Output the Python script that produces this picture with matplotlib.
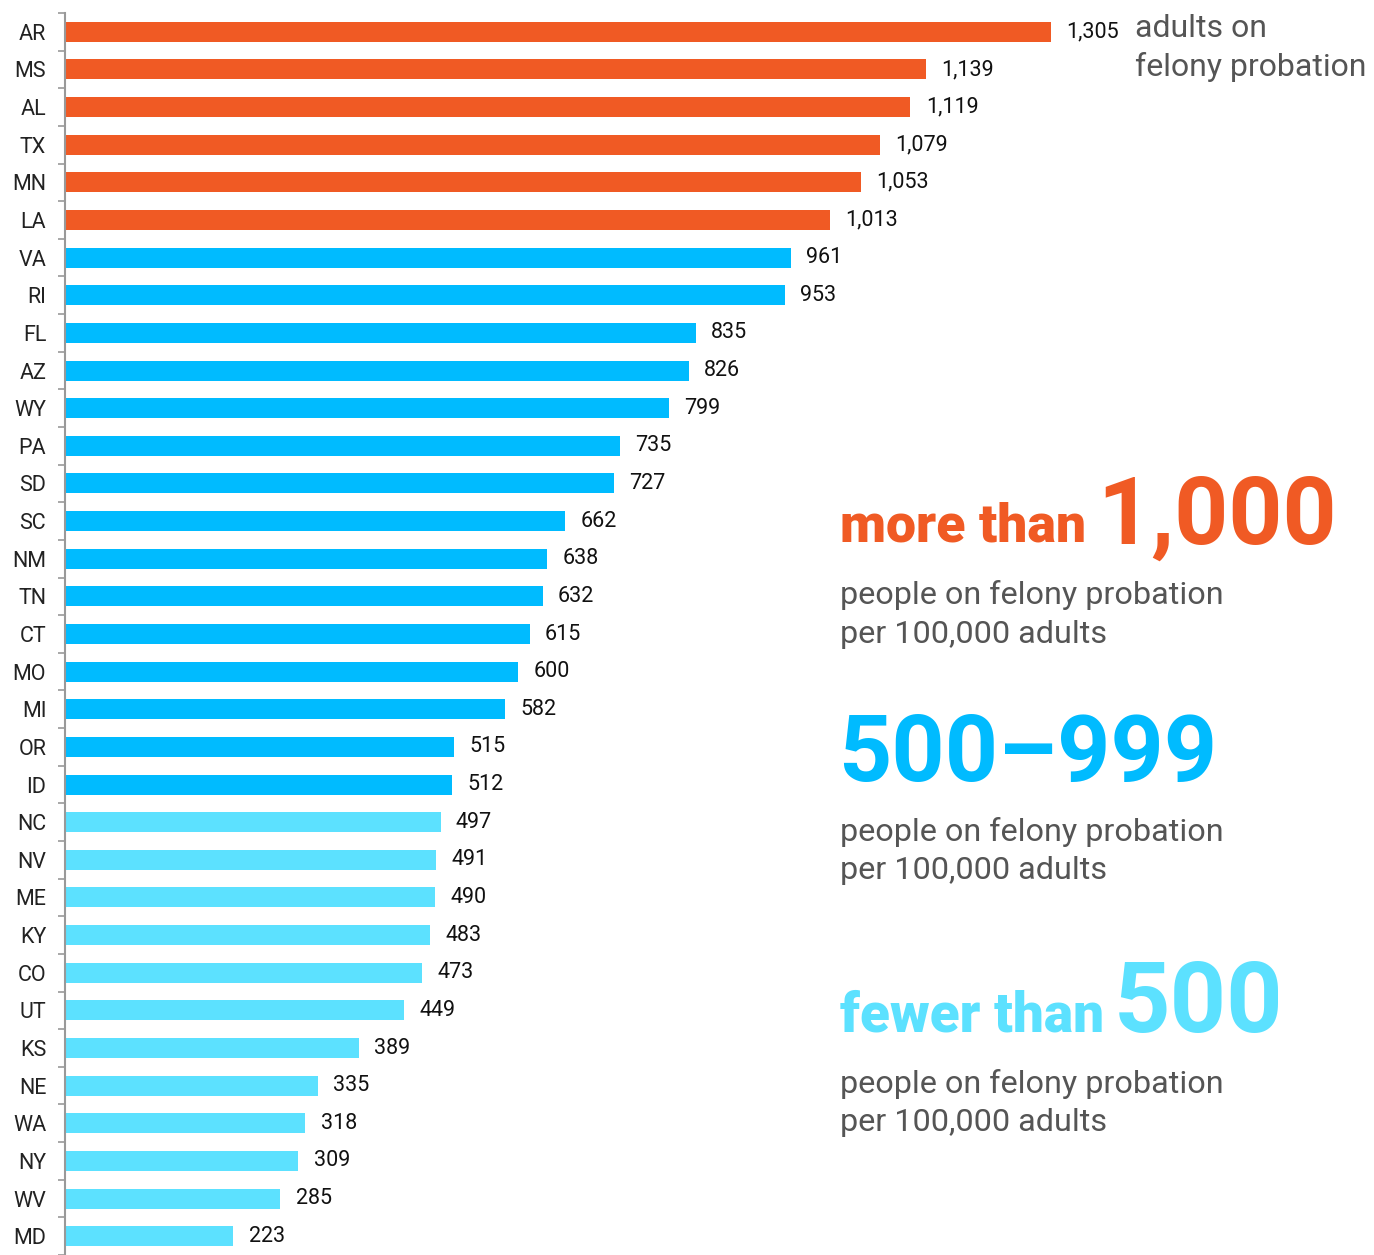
import numpy as np
import matplotlib.pyplot as plt

# Felony probation rate per 100,000 adults, by state

states = ['AR', 'MS', 'AL', 'TX', 'MN', 'LA', 'VA', 'RI', 'FL', 'AZ', 'WY',
          'PA', 'SD', 'SC', 'NM', 'TN', 'CT', 'MO', 'MI', 'OR', 'ID', 'NC',
          'NV', 'ME', 'KY', 'CO', 'UT', 'KS', 'NE', 'WA', 'NY', 'WV', 'MD']
rates = [1305, 1139, 1119, 1079, 1053, 1013, 961, 953, 835, 826, 799,
         735, 727, 662, 638, 632, 615, 600, 582, 515, 512, 497,
         491, 490, 483, 473, 449, 389, 335, 318, 309, 285, 223]

orange = '#F05A24'
blue = '#00BBFF'
cyan = '#5CE1FF'
grey_text = '#555555'

def bar_color(v):
    if v >= 1000:
        return orange
    if v >= 500:
        return blue
    return cyan

colors = [bar_color(v) for v in rates]

W, H = 1374, 1255
fig = plt.figure(figsize=(W / 100, H / 100), dpi=100)
plt.rcParams['font.family'] = ['Roboto', 'DejaVu Sans']

# axes placed in pixel units
left, top = 65, 13
ax = fig.add_axes([left / W, 0, (W - left) / W, (H - top) / H])

y = np.arange(len(states))
bars = ax.barh(y, rates, height=0.53, color=colors)
ax.bar_label(bars, labels=['{:,}'.format(v) for v in rates],
             padding=11, fontsize=15.5, color='#111111')

px_per_unit = 986 / 1305
ax.set_xlim(0, (W - left) / px_per_unit)
row_px = 37.84
ax.set_ylim(-0.5 + (H - top) / row_px, -0.5)

ax.set_yticks(y)
ax.set_yticklabels(states, fontsize=15.5, color='#222222')
ax.tick_params(axis='y', which='major', length=0, pad=13.5)
ax.set_yticks(np.arange(len(states) + 1) - 0.5, minor=True)
ax.tick_params(axis='y', which='minor', length=5, color='#999999', width=1.2)
ax.set_xticks([])

for s in ['top', 'right', 'bottom']:
    ax.spines[s].set_visible(False)
ax.spines['left'].set_color('#999999')
ax.spines['left'].set_linewidth(1.5)

def fx(px):
    return px / W

def fy(py):
    return 1 - py / H

# top-right note
fig.text(fx(1135), fy(37), 'adults on', fontsize=23, color=grey_text, va='baseline')
fig.text(fx(1135), fy(76), 'felony probation', fontsize=23, color=grey_text, va='baseline')

# legend blocks
sub1 = 'people on felony probation'
sub2 = 'per 100,000 adults'

fig.text(fx(840), fy(542), 'more than', fontsize=38.5, fontweight='black',
         color=orange, va='baseline')
fig.text(fx(1097), fy(544), '1,000', fontsize=68, fontweight='bold',
         color=orange, va='baseline')
fig.text(fx(840), fy(604), sub1, fontsize=23.3, color=grey_text, va='baseline')
fig.text(fx(840), fy(643), sub2, fontsize=23.3, color=grey_text, va='baseline')

fig.text(fx(838), fy(781), '500\u2013999', fontsize=67, fontweight='bold',
         color=blue, va='baseline')
fig.text(fx(840), fy(841), sub1, fontsize=23.3, color=grey_text, va='baseline')
fig.text(fx(840), fy(879), sub2, fontsize=23.3, color=grey_text, va='baseline')

fig.text(fx(840), fy(1032), 'fewer than', fontsize=39.5, fontweight='black',
         color=cyan, va='baseline')
fig.text(fx(1114), fy(1032), '500', fontsize=71, fontweight='bold',
         color=cyan, va='baseline')
fig.text(fx(840), fy(1093), sub1, fontsize=23.3, color=grey_text, va='baseline')
fig.text(fx(840), fy(1131), sub2, fontsize=23.3, color=grey_text, va='baseline')

fig.savefig('out.png', dpi=100, facecolor='white')
plt.close(fig)
